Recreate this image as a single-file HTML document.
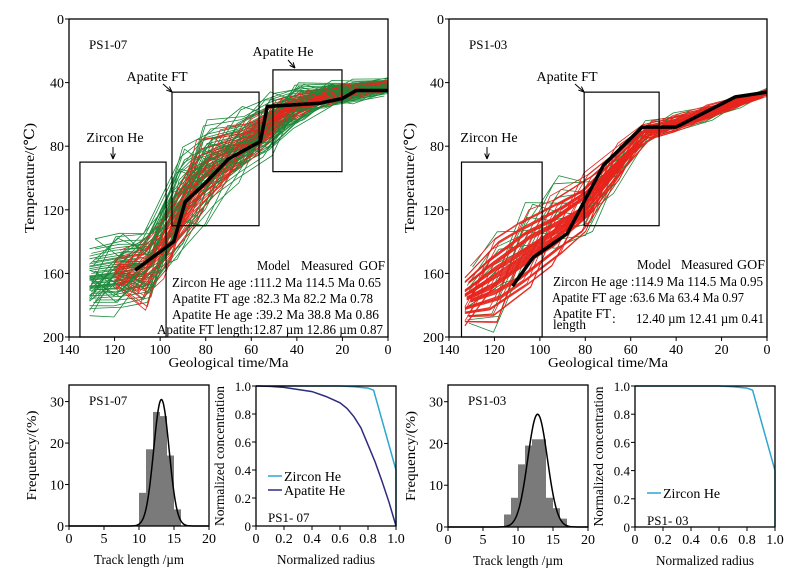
<!DOCTYPE html>
<html><head><meta charset="utf-8"><style>
html,body{margin:0;padding:0;background:#fff;}
svg{display:block;}
svg text{font-family:"Liberation Serif","DejaVu Serif","Times New Roman",serif;}
</style></head><body>
<svg id="fig" width="798" height="574" viewBox="0 0 798 574"></svg>
<script>
// ---------- data ----------
const timeTicks=[140,120,100,80,60,40,20,0];
const tempTicks=[0,40,80,120,160,200];
// Panel PS1-07 envelopes: [time, Tmin, Tmax]
const envA_green=[[131,140,190],[120,132,188],[110,130,185],[100,126,175],[90,68,150],[80,58,130],[70,55,115],[60,55,95],[50,40,90],[40,38,70],[30,38,58],[20,38,55],[0,37,48]];
const envA_red=[[120,148,172],[105,132,190],[95,110,158],[85,70,140],[75,65,115],[60,60,92],[50,50,75],[40,45,62],[20,40,52],[0,38,46]];
const bestA_t=[111,94,92,89,80,70,56,53,30,20,14,0];
const bestA_T=[158,140,130,115,103,88,77,55,53,50,45,45];
const envB_green=[[132,165,200],[120,120,200],[100,98,160],[85,95,150],[70,80,120],[55,63,82],[40,58,75],[20,50,62],[0,43,50]];
const envB_red=[[133,160,195],[115,125,195],[100,112,165],[85,100,150],[70,82,115],[55,65,80],[40,60,72],[20,51,60],[0,44,49]];
const bestB_t=[112,103,88,72,55,40,14,0];
const bestB_T=[168,150,135,92,68,68,49,46];
// histograms
const histA_bins=[10,11,12,13,14,15];
const histA_vals=[8,18.5,27.5,26.5,17,4];
const histB_bins=[8,9,10,11,12,13,14,15,16];
const histB_vals=[3,7,15,19.5,21,21,7,4.5,2];
const fitA=[13.2,1.1,30.5]; // mean, sigma, peak
const fitB=[12.8,1.4,27];
const lenTicks=[0,5,10,15,20];
const freqTicks=[0,10,20,30];
// concentration profiles
const radius=[0,0.2,0.4,0.6,0.7,0.8,0.84,1.0,1.0];
const zirconConc=[1,1,1,1,0.995,0.985,0.97,0.4,0];
const apatiteRad=[0,0.1,0.2,0.3,0.4,0.5,0.6,0.65,0.7,0.75,0.8,0.85,0.9,0.95,1.0];
const apatiteConc=[1,0.997,0.99,0.975,0.96,0.925,0.88,0.84,0.78,0.7,0.58,0.46,0.32,0.17,0];
const radTicks=[0,0.2,0.4,0.6,0.8,1.0];
const concTicks=[0,0.2,0.4,0.6,0.8,1.0];

// ---------- helpers ----------
const NS="http://www.w3.org/2000/svg";
const svg=document.getElementById('fig');
function el(tag,attrs,parent,text){const e=document.createElementNS(NS,tag);for(const k in attrs)e.setAttribute(k,attrs[k]);if(text!==undefined)e.textContent=text;(parent||svg).appendChild(e);return e;}
function lin(d0,d1,r0,r1){return v=>r0+(v-d0)/(d1-d0)*(r1-r0);}
function interpEnv(env,t){
  if(t>=env[0][0])return [env[0][1],env[0][2]];
  for(let i=0;i<env.length-1;i++){const a=env[i],b=env[i+1];if(t<=a[0]&&t>=b[0]){const f=(a[0]-t)/(a[0]-b[0]);return [a[1]+f*(b[1]-a[1]),a[2]+f*(b[2]-a[2])];}}
  const l=env[env.length-1];return [l[1],l[2]];
}
function frame(g,L,T,R,B){const r=el('rect',{x:L,y:T,width:R-L,height:B-T,fill:'none',stroke:'#000','stroke-width':1.3},g);}
function text(g,x,y,s,size,anchor,name,rot,len){const a={x:x,y:y,'font-size':size,'text-anchor':anchor||'start'};if(rot)a.transform='rotate(-90 '+x+' '+y+')';if(len){a.textLength=len;a.lengthAdjust='spacingAndGlyphs';}const t=el('text',a,g,s);return t;}
function xTicks(g,ticks,sx,B,fmt,name){ticks.forEach(v=>{const x=sx(v);el('line',{x1:x,y1:B,x2:x,y2:B+4,stroke:'#000'},g);text(g,x,B+17,fmt?fmt(v):String(v),14,'middle',name);});}
function yTicks(g,ticks,sy,L,fmt,name,fs){ticks.forEach(v=>{const y=sy(v);el('line',{x1:L-4,y1:y,x2:L,y2:y,stroke:'#000'},g);text(g,L-5,y+5,fmt?fmt(v):String(v),fs||14,'end',name);});}

// ---------- t-T panel ----------
function ttPanel(L,R,T,B,envG,envR,bt,bT,label,boxes,table,nameP,nG,nR){
  const g=el('g',{});
  
  
  const sx=lin(140,0,L,R), sy=lin(0,200,T,B);
  const drawPaths=(env,color,N,seed)=>{
    const t0=env[0][0];
    const knots=10;
    for(let k=0;k<N;k++){
      let d='';
      for(let i=0;i<=knots;i++){
        const t=t0-t0*i/knots + ((k*5+i*3)%7-3)*0.8;
        const tt=Math.max(0,Math.min(t0,t));
        const [lo,hi]=interpEnv(env,tt);
        const f=((k*7+i*(3+seed))%N)/(N-1);
        const fr=0.5*f+0.5*(k/(N-1));
        const Tv=lo+(hi-lo)*fr;
        d+=(i?'L':'M')+sx(tt).toFixed(1)+','+sy(Tv).toFixed(1);
      }
      const p=el('path',{d:d,fill:'none',stroke:color,'stroke-width':0.8},g);
      
      
    }
  };
  drawPaths(envG,'#1a8a3a',nG[0],2);
  drawPaths(envR,'#e8241c',nR,4);
  if(nG[1])drawPaths(envG,'#1a8a3a',nG[1],6);
  let d='';bt.forEach((t,i)=>{d+=(i?'L':'M')+sx(t)+','+sy(bT[i]);});
  const bp=el('path',{d:d,fill:'none',stroke:'#000','stroke-width':3.5},g);
  
  boxes.forEach(b=>{
    const r=el('rect',{x:sx(b.t0),y:sy(b.T0),width:sx(b.t1)-sx(b.t0),height:sy(b.T1)-sy(b.T0),fill:'none',stroke:'#000','stroke-width':1.2},g);
    
    text(g,b.lx,b.ly,b.label,14,'middle',b.name+'-label');
    el('line',{x1:b.ax1,y1:b.ay1,x2:b.ax2,y2:b.ay2,stroke:'#000','stroke-width':1},g);
    const ang=Math.atan2(b.ay2-b.ay1,b.ax2-b.ax1);
    const hx=b.ax2,hy=b.ay2;
    el('path',{d:`M${hx},${hy}L${hx-6*Math.cos(ang-0.4)},${hy-6*Math.sin(ang-0.4)}M${hx},${hy}L${hx-6*Math.cos(ang+0.4)},${hy-6*Math.sin(ang+0.4)}`,stroke:'#000',fill:'none'},g);
  });
  frame(g,L,T,R,B);
  xTicks(g,timeTicks,sx,B,null,'time-tick-label');
  yTicks(g,tempTicks,sy,L,null,'temperature-tick-label');
  text(g,(L+R)/2,B+30,'Geological time/Ma',14,'middle','x-axis-title',false,120);
  text(g,L-35,(T+B)/2,'Temperature/(℃)',14,'middle','y-axis-title',true,110);
  text(g,L+20,T+30,label,13,'start','sample-label');
  table.forEach(r=>text(g,r[0],r[1],r[2],13.5,'start','gof-table-text',false,r[3]));
}
ttPanel(69,388,19,337,envA_green,envA_red,bestA_t,bestA_T,'PS1-07',[
 {t0:135.2,t1:97.4,T0:90,T1:200,name:'zircon-he',label:'Zircon He',lx:115,ly:142,ax1:113,ay1:147,ax2:113,ay2:159},
 {t0:94.8,t1:56.6,T0:46,T1:130,name:'apatite-ft',label:'Apatite FT',lx:157,ly:81,ax1:163,ay1:84,ax2:172,ay2:92},
 {t0:50.5,t1:20.2,T0:32,T1:96,name:'apatite-he',label:'Apatite He',lx:283,ly:56,ax1:288,ay1:60,ax2:295,ay2:68}
],[[257,270,'Model',33],[301,270,'Measured',52],[359,270,'GOF',26],
   [172,287,'Zircon He age :111.2 Ma  114.5 Ma  0.65',209],
   [172,303,'Apatite FT age :82.3 Ma  82.2 Ma  0.78',201],
   [172,319,'Apatite He age :39.2 Ma  38.8 Ma  0.86',207],
   [157,334,'Apatite FT length:12.87 µm  12.86 µm  0.87',226]],'ps1-07',[45,15],38);
ttPanel(449,767,19,337,envB_green,envB_red,bestB_t,bestB_T,'PS1-03',[
 {t0:134.5,t1:99,T0:90,T1:200,name:'zircon-he',label:'Zircon He',lx:489,ly:142,ax1:487,ay1:147,ax2:487,ay2:159},
 {t0:80.5,t1:47.5,T0:46,T1:130,name:'apatite-ft',label:'Apatite FT',lx:567,ly:81,ax1:575,ay1:84,ax2:584,ay2:92},
],[[637,269,'Model',34],[681,269,'Measured',52],[737,269,'GOF',28],
   [553,286,'Zircon He age :114.9 Ma  114.5 Ma  0.95',210],
   [552,302,'Apatite FT age :63.6 Ma  63.4 Ma  0.97',192],
   [553,318,'Apatite FT',58],[553,329,'length',33],[612,323,':'],
   [636,323,'12.40 µm  12.41 µm  0.41',128]],'ps1-03',[14,0],55);

// ---------- histogram ----------
function histPanel(L,R,T,B,bins,vals,fit,label,nameP){
  const g=el('g',{});
  
  
  const sx=lin(0,20,L,R), sy=lin(0,34,B,T);
  bins.forEach((b,i)=>{const r=el('rect',{x:sx(b),y:sy(vals[i]),width:sx(b+1)-sx(b),height:B-sy(vals[i]),fill:'#7a7a7a'},g);
    });
  let d='';for(let i=0;i<=200;i++){const x=i/10;const y=fit[2]*Math.exp(-((x-fit[0])**2)/(2*fit[1]**2));d+=(i?'L':'M')+sx(x).toFixed(1)+','+sy(y).toFixed(1);}
  const p=el('path',{d:d,fill:'none',stroke:'#000','stroke-width':1.5},g);
  
  frame(g,L,T,R,B);
  xTicks(g,lenTicks,sx,B,null,'length-tick-label');
  yTicks(g,freqTicks,sy,L,null,'frequency-tick-label');
  text(g,(L+R)/2,B+38,'Track length /µm',14,'middle','x-axis-title',false,90);
  text(g,L-33,(T+B)/2,'Frequency/(%)',14,'middle','y-axis-title',true,90);
  text(g,L+20,T+20,label,13,'start','sample-label');
}
histPanel(69,209,385,526,histA_bins,histA_vals,fitA,'PS1-07','ps1-07');
histPanel(448,588,385,527,histB_bins,histB_vals,fitB,'PS1-03','ps1-03');

// ---------- concentration ----------
function concPanel(L,R,T,B,series,legendY,label,nameP){
  const g=el('g',{});
  
  
  const sx=lin(0,1,L,R), sy=lin(0,1,B,T);
  series.forEach((s,j)=>{let d='';s.x.forEach((x,i)=>{d+=(i?'L':'M')+sx(x).toFixed(1)+','+sy(s.y[i]).toFixed(1);});
    const p=el('path',{d:d,fill:'none',stroke:s.c,'stroke-width':1.5},g);
    
    const ly=legendY+j*14;
    el('line',{x1:L+12,y1:ly,x2:L+26,y2:ly,stroke:s.c,'stroke-width':1.5},g);
    text(g,L+28,ly+5,s.label,14,'start','legend-entry');
  });
  frame(g,L,T,R,B);
  xTicks(g,radTicks,sx,B,v=>v===0?'0':v.toFixed(1),'radius-tick-label');
  yTicks(g,concTicks,sy,L,v=>v===0?'0':v.toFixed(1),'concentration-tick-label',13);
  text(g,(L+R)/2,B+38,'Normalized radius',14,'middle','x-axis-title',false,98);
  text(g,L-32,(T+B)/2,'Normalized concentration',13.5,'middle','y-axis-title',true,140);
  text(g,L+12,legendY+series.length*14+18,label,13,'start','sample-label');
}
concPanel(256,396,386,526,[
  {x:radius,y:zirconConc,c:'#2ea6d0',n:'zircon-he',label:'Zircon He'},
  {x:apatiteRad,y:apatiteConc,c:'#2d2b7e',n:'apatite-he',label:'Apatite He'}],476,'PS1- 07','ps1-07');
concPanel(635,775,386,527,[
  {x:radius,y:zirconConc,c:'#2ea6d0',n:'zircon-he',label:'Zircon He'}],493,'PS1- 03','ps1-03');
</script>
</body></html>
